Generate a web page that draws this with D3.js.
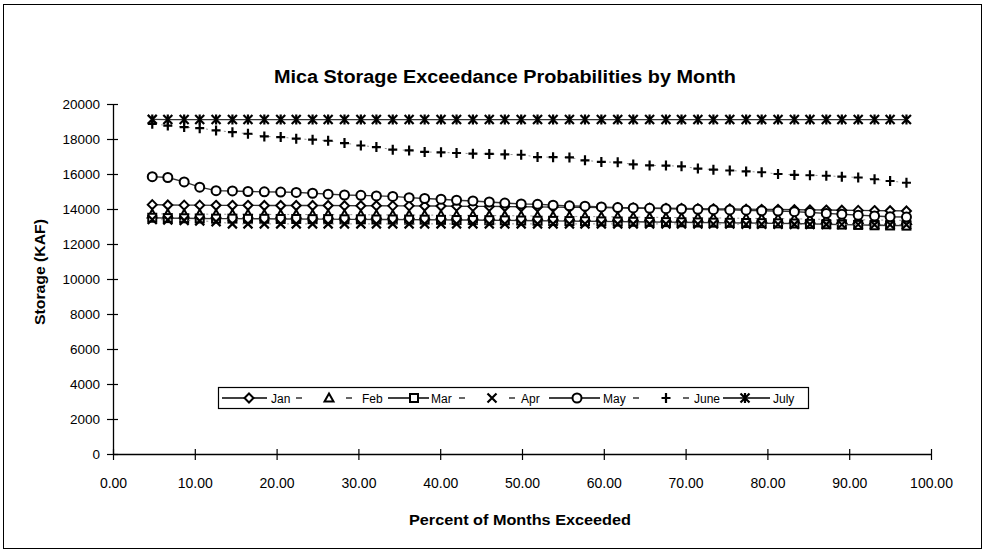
<!DOCTYPE html>
<html><head><meta charset="utf-8">
<script src="https://cdn.jsdelivr.net/npm/d3@7"></script>
<style>
body{margin:0;background:#fff;}
text{font-family:"Liberation Sans",Arial,sans-serif;fill:#000;}
</style></head>
<body><svg id="c" width="985" height="553"></svg>
<script>
const xPct = [4.8, 6.7, 8.7, 10.6, 12.6, 14.6, 16.5, 18.5, 20.5, 22.4, 24.4, 26.3, 28.3, 30.3, 32.2, 34.2,
  36.2, 38.1, 40.1, 42.0, 44.0, 46.0, 47.9, 49.9, 51.9, 53.8, 55.8, 57.7, 59.7, 61.7, 63.6, 65.6, 67.6, 69.5,
  71.5, 73.4, 75.4, 77.4, 79.3, 81.3, 83.3, 85.2, 87.2, 89.1, 91.1, 93.1, 95.0, 97.0];
const jan = [14250, 14230, 14220, 14220, 14210, 14210, 14210, 14200, 14200, 14200, 14200, 14200, 14190, 14190, 14190, 14180,
  14180, 14170, 14170, 14160, 14150, 14150, 14140, 14130, 14120, 14110, 14100, 14090, 14080, 14070, 14060, 14050, 14040, 14030,
  14020, 14010, 14000, 13990, 13980, 13970, 13960, 13950, 13940, 13930, 13920, 13910, 13900, 13890];
const feb = [13720, 13720, 13710, 13710, 13700, 13700, 13700, 13690, 13690, 13690, 13680, 13680, 13680, 13670, 13670, 13660,
  13660, 13650, 13650, 13640, 13640, 13630, 13620, 13610, 13600, 13590, 13580, 13570, 13560, 13550, 13540, 13530, 13520, 13510,
  13500, 13490, 13480, 13470, 13460, 13450, 13440, 13420, 13410, 13400, 13390, 13370, 13360, 13350];
const mar = [13500, 13480, 13470, 13460, 13450, 13450, 13440, 13440, 13430, 13430, 13420, 13420, 13410, 13410, 13400, 13400,
  13390, 13390, 13380, 13370, 13370, 13360, 13350, 13340, 13330, 13320, 13310, 13300, 13290, 13280, 13270, 13260, 13250, 13240,
  13230, 13220, 13210, 13200, 13190, 13180, 13170, 13150, 13130, 13110, 13090, 13070, 13060, 13050];
const apr = [13400, 13380, 13350, 13320, 13280, 13150, 13150, 13150, 13150, 13150, 13150, 13150, 13150, 13150, 13150, 13150,
  13150, 13150, 13150, 13150, 13150, 13150, 13150, 13150, 13150, 13150, 13150, 13150, 13150, 13150, 13150, 13150, 13150, 13150,
  13140, 13140, 13140, 13130, 13130, 13130, 13120, 13120, 13120, 13110, 13110, 13100, 13100, 13100];
const may = [15850, 15800, 15550, 15250, 15050, 15030, 15000, 14980, 14970, 14950, 14900, 14850, 14800, 14780, 14750, 14720,
  14650, 14600, 14560, 14500, 14460, 14400, 14340, 14290, 14270, 14220, 14180, 14160, 14120, 14080, 14060, 14040, 14020, 14000,
  13980, 13960, 13950, 13930, 13900, 13880, 13850, 13800, 13750, 13700, 13650, 13600, 13560, 13540];
const june = [18870, 18770, 18680, 18620, 18490, 18390, 18300, 18150, 18110, 18020, 17960, 17900, 17770, 17630, 17540, 17390,
  17350, 17260, 17240, 17200, 17160, 17150, 17120, 17100, 16970, 16960, 16950, 16780, 16690, 16670, 16550, 16490, 16480, 16440,
  16310, 16250, 16200, 16150, 16100, 16000, 15950, 15930, 15900, 15850, 15800, 15700, 15600, 15500];
const july = [19120, 19110, 19110, 19110, 19110, 19110, 19110, 19110, 19110, 19110, 19110, 19110, 19110, 19110, 19110, 19110,
  19110, 19110, 19110, 19110, 19110, 19110, 19110, 19110, 19110, 19110, 19110, 19110, 19110, 19110, 19110, 19110, 19110, 19110,
  19110, 19110, 19110, 19110, 19110, 19110, 19110, 19110, 19110, 19110, 19110, 19110, 19110, 19110];
const seriesNames = ["Jan", "Feb", "Mar", "Apr", "May", "June", "July"];
const seriesData = [jan, feb, mar, apr, may, june, july];
const seriesMarkers = ["diamond", "triangle", "square", "x", "circle", "plus", "asterisk"];
const seriesDashed = [false, true, false, true, false, true, false];
const yTicks = [0, 2000, 4000, 6000, 8000, 10000, 12000, 14000, 16000, 18000, 20000];
const xTicks = [0, 10, 20, 30, 40, 50, 60, 70, 80, 90, 100];

const svg = d3.select("#c");
svg.append("rect").attr("x", 3.5).attr("y", 4.5).attr("width", 978).attr("height", 544)
  .attr("fill", "none").attr("stroke", "#000").attr("stroke-width", 1);

const x = d3.scaleLinear().domain([0, 100]).range([113, 931]);
const y = d3.scaleLinear().domain([0, 20000]).range([454, 104]);

svg.append("text").attr("x", 505).attr("y", 83).attr("text-anchor", "middle")
  .attr("font-size", 18).attr("font-weight", "bold")
  .attr("textLength", 462).attr("lengthAdjust", "spacingAndGlyphs")
  .text("Mica Storage Exceedance Probabilities by Month");

// axes
const yAxis = d3.axisLeft(y).tickValues(yTicks).tickSizeInner(5).tickSizeOuter(0).tickPadding(8).tickFormat(d3.format("d"));
const gy = svg.append("g").attr("transform", "translate(113,0)").call(yAxis);
gy.selectAll(".tick line").attr("x2", 5).attr("x1", -6);
gy.selectAll("text").attr("font-size", 13.5);
const xAxis = d3.axisBottom(x).tickValues(xTicks).tickSizeInner(6).tickSizeOuter(0).tickPadding(18).tickFormat(d3.format(".2f"));
const gx = svg.append("g").attr("transform", "translate(0,454)").call(xAxis);
gx.selectAll(".tick line").attr("y1", -5).attr("y2", 6);
gx.selectAll("text").attr("font-size", 14);
[gx, gy].forEach(g => {
  g.selectAll("path.domain").attr("stroke", "#000").attr("stroke-width", 1.3);
  g.selectAll(".tick line").attr("stroke", "#000").attr("stroke-width", 1.2);
  g.selectAll("text").attr("font-family", "Liberation Sans, Arial, sans-serif").attr("fill", "#000");
});

svg.append("text").attr("x", 520).attr("y", 525).attr("text-anchor", "middle")
  .attr("font-size", 15).attr("font-weight", "bold")
  .attr("textLength", 222).attr("lengthAdjust", "spacingAndGlyphs")
  .text("Percent of Months Exceeded");
svg.append("text").attr("transform", "translate(45,272) rotate(-90)").attr("text-anchor", "middle")
  .attr("font-size", 15).attr("font-weight", "bold")
  .attr("textLength", 106).attr("lengthAdjust", "spacingAndGlyphs")
  .text("Storage (KAF)");

function drawMarker(g, type, cx, cy) {
  const s = 4.5;
  const st = {stroke: "#000", "stroke-width": 2, fill: "#fff"};
  let el;
  if (type === "diamond") {
    el = g.append("path").attr("d", `M${cx},${cy - s}L${cx + s},${cy}L${cx},${cy + s}L${cx - s},${cy}Z`);
  } else if (type === "triangle") {
    el = g.append("path").attr("d", `M${cx},${cy - s}L${cx + s},${cy + s * 0.8}L${cx - s},${cy + s * 0.8}Z`);
  } else if (type === "square") {
    el = g.append("rect").attr("x", cx - 4).attr("y", cy - 4).attr("width", 8).attr("height", 8);
  } else if (type === "circle") {
    el = g.append("circle").attr("cx", cx).attr("cy", cy).attr("r", 4.5);
  } else if (type === "x") {
    el = g.append("path").attr("d", `M${cx - s},${cy - s}L${cx + s},${cy + s}M${cx - s},${cy + s}L${cx + s},${cy - s}`);
    st.fill = "none"; st["stroke-width"] = 2.2;
  } else if (type === "plus") {
    el = g.append("path").attr("d", `M${cx - s},${cy}L${cx + s},${cy}M${cx},${cy - s - 0.5}L${cx},${cy + s + 0.5}`);
    st.fill = "none"; st["stroke-width"] = 2.2;
  } else if (type === "asterisk") {
    el = g.append("path").attr("d", `M${cx - s},${cy - s}L${cx + s},${cy + s}M${cx - s},${cy + s}L${cx + s},${cy - s}M${cx},${cy - s - 0.5}L${cx},${cy + s + 0.5}`);
    st.fill = "none"; st["stroke-width"] = 2.2;
  }
  Object.entries(st).forEach(([k, v]) => el.attr(k, v));
}

const line = d3.line().x(d => x(d[0])).y(d => y(d[1]));
seriesData.forEach((vals, i) => {
  const pts = xPct.map((p, j) => [p, vals[j]]);
  const g = svg.append("g");
  g.append("path").attr("d", line(pts)).attr("fill", "none")
    .attr("stroke", seriesDashed[i] ? "#777" : "#333")
    .attr("stroke-width", seriesDashed[i] ? 0.8 : 1.4)
    .attr("stroke-dasharray", seriesDashed[i] ? "2,7" : null);
  pts.forEach(d => drawMarker(g, seriesMarkers[i], x(d[0]), y(d[1])));
});

// legend (layout: sample start, marker x, sample end, text x)
const lg = svg.append("g");
lg.append("rect").attr("x", 218.5).attr("y", 387.5).attr("width", 590).attr("height", 21)
  .attr("fill", "#fff").attr("stroke", "#000").attr("stroke-width", 1.2);
const legLayout = [[222, 249, 267, 271], [297, 329, 356, 362], [388, 414, 429, 431], [457, 492, 518, 521],
  [549, 577, 600, 603], [630, 666, 690, 694], [723, 745, 770, 773]];
seriesNames.forEach((nm, i) => {
  const [s0, mx, s1, tx] = legLayout[i], ly = 398;
  const g = lg.append("g");
  if (seriesDashed[i]) {
    [[mx - 33, mx - 27], [mx + 17, mx + 23]].forEach(([a, b]) =>
      g.append("line").attr("x1", a).attr("x2", b).attr("y1", ly).attr("y2", ly)
        .attr("stroke", "#000").attr("stroke-width", 1.2));
  } else {
    g.append("line").attr("x1", s0).attr("x2", s1).attr("y1", ly).attr("y2", ly)
      .attr("stroke", "#000").attr("stroke-width", 1.3);
  }
  drawMarker(g, seriesMarkers[i], mx, ly);
  g.append("text").attr("x", tx).attr("y", ly + 4.5).attr("font-size", 12).text(nm);
});
</script></body></html>
